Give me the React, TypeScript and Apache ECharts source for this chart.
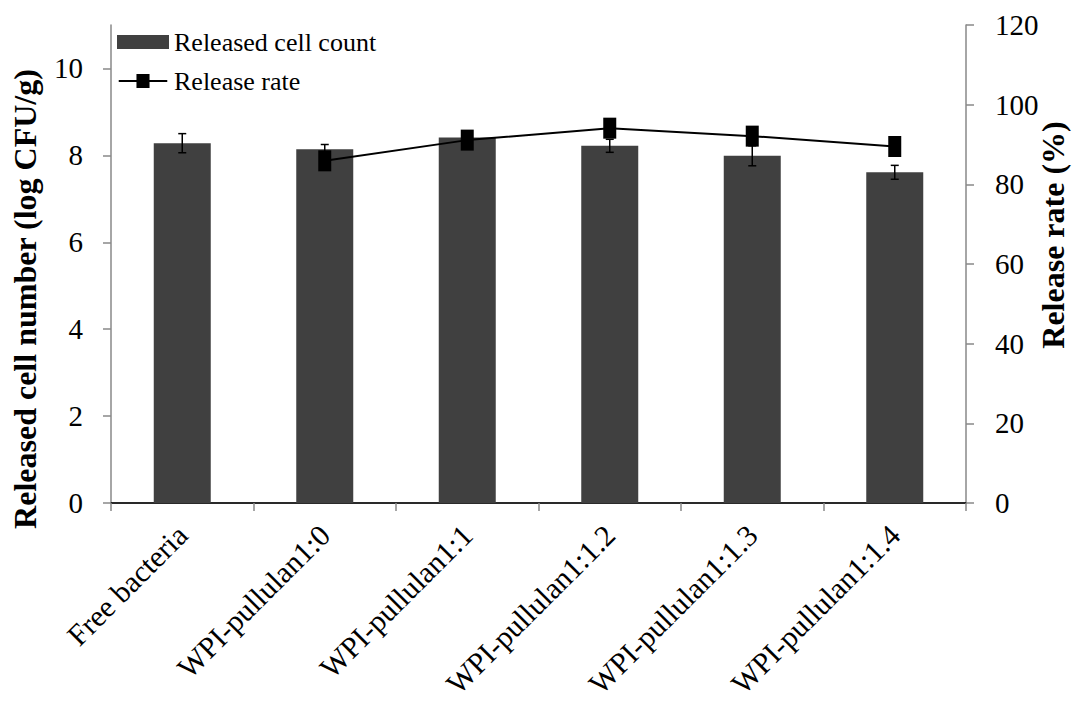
import React, { useEffect, useRef } from "react";
import * as echarts from "echarts";

const categories = [
  "Free bacteria",
  "WPI-pullulan1:0",
  "WPI-pullulan1:1",
  "WPI-pullulan1:1.2",
  "WPI-pullulan1:1.3",
  "WPI-pullulan1:1.4",
];
const cellCount = [8.28, 8.14, 8.41, 8.22, 7.99, 7.61];
const cellCountErr = [0.22, 0.11, 0.1, 0.15, 0.23, 0.16];
const releaseRate = [null, 85.9, 91.1, 94.1, 92.1, 89.5];

const leftTitle = "Released cell number (log CFU/g)";
const rightTitle = "Release rate (%)";

const FONT = "'Liberation Serif', 'Times New Roman', serif";
const LINE_ICON = "path://M0,6.5H19V0H33V6.5H52V8.5H33V15H19V8.5H0Z";

export default function App() {
  const ref = useRef<HTMLDivElement>(null);
  useEffect(() => {
    if (!ref.current) return;
    const chart = echarts.init(ref.current, undefined, { renderer: "svg" });
    const errData = categories.map((_, i) => [
      i,
      cellCount[i] - cellCountErr[i],
      cellCount[i] + cellCountErr[i],
    ]);
    chart.setOption({
      animation: false,
      backgroundColor: "#fff",
      textStyle: { fontFamily: FONT, color: "#000" },
      grid: {
        left: 111,
        right: 108,
        top: 25,
        bottom: 205,
        containLabel: false,
        outerBoundsMode: "none",
      },
      legend: {
        left: 117,
        top: 29,
        padding: 0,
        orient: "vertical",
        itemWidth: 52,
        itemHeight: 14,
        itemGap: 13,
        textStyle: { fontFamily: FONT, fontSize: 26, color: "#000" },
        data: [
          { name: "Released cell count", icon: "rect" },
          { name: "Release rate", icon: LINE_ICON },
        ],
      },
      graphic: [
        {
          type: "text",
          x: 25,
          y: 299,
          rotation: Math.PI / 2,
          style: {
            text: leftTitle,
            fontFamily: FONT,
            fontSize: 32,
            fontWeight: "bold",
            fill: "#000",
            align: "center",
            verticalAlign: "middle",
          },
        },
        {
          type: "text",
          x: 1053,
          y: 235,
          rotation: Math.PI / 2,
          style: {
            text: rightTitle,
            fontFamily: FONT,
            fontSize: 32,
            fontWeight: "bold",
            fill: "#000",
            align: "center",
            verticalAlign: "middle",
          },
        },
      ],
      xAxis: [
        {
          type: "category",
          data: categories,
          axisLine: { lineStyle: { color: "#888", width: 1.5 } },
          axisTick: { show: true, alignWithLabel: false, length: 8, lineStyle: { color: "#888", width: 1.5 } },
          axisLabel: {
            rotate: 45,
            interval: 0,
            margin: 27,
            fontFamily: FONT,
            fontSize: 30,
            color: "#000",
          },
        },
        {
          type: "category",
          data: categories,
          position: "top",
          axisLine: { show: true, lineStyle: { color: "#000", width: 1.5 } },
          axisTick: { show: false },
          axisLabel: { show: false },
        },
      ],
      yAxis: [
        {
          type: "value",
          min: 0,
          max: 11,
          interval: 2,
          axisLine: { show: true, lineStyle: { color: "#888", width: 1.5 } },
          axisTick: { show: true, length: 8, lineStyle: { color: "#888", width: 1.5 } },
          axisLabel: { fontFamily: FONT, fontSize: 29, color: "#000", margin: 28, showMaxLabel: false },
          splitLine: { show: false },
        },
        {
          type: "value",
          min: 0,
          max: 120,
          interval: 20,
          position: "right",
          axisLine: { show: true, lineStyle: { color: "#888", width: 1.5 } },
          axisTick: { show: true, length: 8, lineStyle: { color: "#888", width: 1.5 } },
          axisLabel: { fontFamily: FONT, fontSize: 29, color: "#000", margin: 29 },
          splitLine: { show: false },
        },
      ],
      series: [
        {
          name: "Released cell count",
          type: "bar",
          data: cellCount,
          barWidth: "40%",
          itemStyle: { color: "#404040" },
          xAxisIndex: 0,
          yAxisIndex: 0,
        },
        {
          name: "error",
          type: "custom",
          xAxisIndex: 0,
          yAxisIndex: 0,
          data: errData,
          z: 3,
          renderItem: (params: any, api: any) => {
            const x = api.value(0);
            const lo = api.coord([x, api.value(1)]);
            const hi = api.coord([x, api.value(2)]);
            const w = 4;
            const style = { stroke: "#000", lineWidth: 1.5 };
            return {
              type: "group",
              children: [
                { type: "line", shape: { x1: lo[0], y1: lo[1], x2: hi[0], y2: hi[1] }, style },
                { type: "line", shape: { x1: lo[0] - w, y1: lo[1], x2: lo[0] + w, y2: lo[1] }, style },
                { type: "line", shape: { x1: hi[0] - w, y1: hi[1], x2: hi[0] + w, y2: hi[1] }, style },
              ],
            };
          },
        },
        {
          name: "Release rate",
          type: "line",
          data: releaseRate,
          xAxisIndex: 0,
          yAxisIndex: 1,
          z: 5,
          symbol: "rect",
          symbolSize: [13, 21],
          lineStyle: { color: "#000", width: 2 },
          itemStyle: { color: "#000" },
        },
      ],
    });
    return () => chart.dispose();
  }, []);
  return <div ref={ref} style={{ width: 1074, height: 708, position: "absolute", left: 0, top: 0 }} />;
}
